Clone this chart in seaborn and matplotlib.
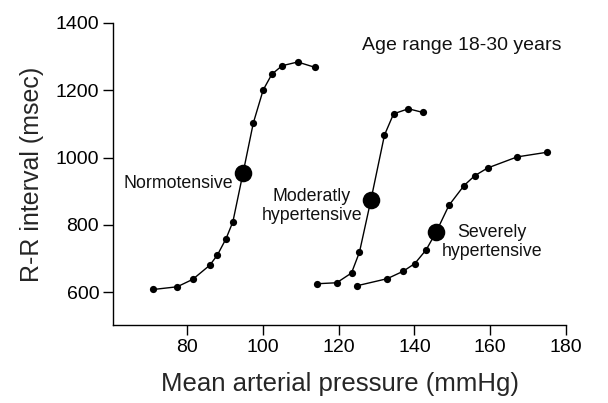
import matplotlib
matplotlib.use("Agg")
import matplotlib.pyplot as plt
import seaborn as sns
import pandas as pd

# Baroreflex curves: R-R interval vs mean arterial pressure
normo_map = [71.1, 77.4, 81.5, 86.0, 88.0, 90.3, 92.1, 94.8, 97.5, 100.1, 102.4, 105.1, 109.2, 113.8]
normo_rr = [608, 616, 638, 680, 710, 759, 809, 955, 1103, 1201, 1248, 1273, 1284, 1268]

moder_map = [114.2, 119.5, 123.4, 125.5, 128.5, 132.1, 134.5, 138.4, 142.3]
moder_rr = [625, 628, 657, 719, 873, 1067, 1130, 1145, 1134]

sever_map = [124.8, 132.8, 137.0, 140.1, 143.1, 145.8, 149.1, 153.1, 155.9, 159.3, 167.1, 175.1]
sever_rr = [619, 640, 662, 685, 726, 780, 858, 917, 946, 969, 1002, 1016]

# Operating (set) points of each curve
set_map = [94.8, 128.5, 145.8]
set_rr = [955, 873, 780]

groups = ["Normotensive", "Moderatly\nhypertensive", "Severely\nhypertensive"]
label_pos = [(77.6, 924), (112.9, 856), (160.5, 749)]

xticks = [80, 100, 120, 140, 160, 180]
yticks = [600, 800, 1000, 1200, 1400]

sns.set_theme(style="ticks")
plt.rcParams["font.family"] = ["Liberation Sans", "DejaVu Sans"]

fig = plt.figure(figsize=(6.08, 4.03), dpi=100)
ax = fig.add_axes([0.186, 0.194, 0.745, 0.749])

curves = [(normo_map, normo_rr), (moder_map, moder_rr), (sever_map, sever_rr)]
for xs, ys in curves:
    df = pd.DataFrame({"map": xs, "rr": ys})
    sns.lineplot(data=df, x="map", y="rr", ax=ax, color="black", linewidth=1.0,
                 marker="o", markersize=5.2, markeredgewidth=0, sort=False,
                 estimator=None)

sns.scatterplot(x=set_map, y=set_rr, ax=ax, color="black", s=160, linewidth=0,
                zorder=5)

for name, (lx, ly) in zip(groups, label_pos):
    ax.text(lx, ly, name, ha="center", va="center", fontsize=12.8,
            color="#111111", linespacing=1.1)

ax.text(0.549, 0.925, "Age range 18-30 years", transform=ax.transAxes,
        ha="left", va="center", fontsize=14, color="#111111")

ax.set_xlim(60.5, 180)
ax.set_ylim(503, 1400)
ax.set_xticks(xticks)
ax.set_yticks(yticks)
ax.tick_params(axis="both", direction="out", length=7, width=1.0,
               labelsize=14, colors="black", pad=3)
for side in ("top", "right"):
    ax.spines[side].set_visible(False)
for side in ("left", "bottom"):
    ax.spines[side].set_linewidth(1.0)
    ax.spines[side].set_color("black")

ax.set_xlabel("Mean arterial pressure (mmHg)", fontsize=18.5, labelpad=12)
ax.set_ylabel("R-R interval (msec)", fontsize=18, labelpad=8)

fig.savefig("out.png", dpi=100)
